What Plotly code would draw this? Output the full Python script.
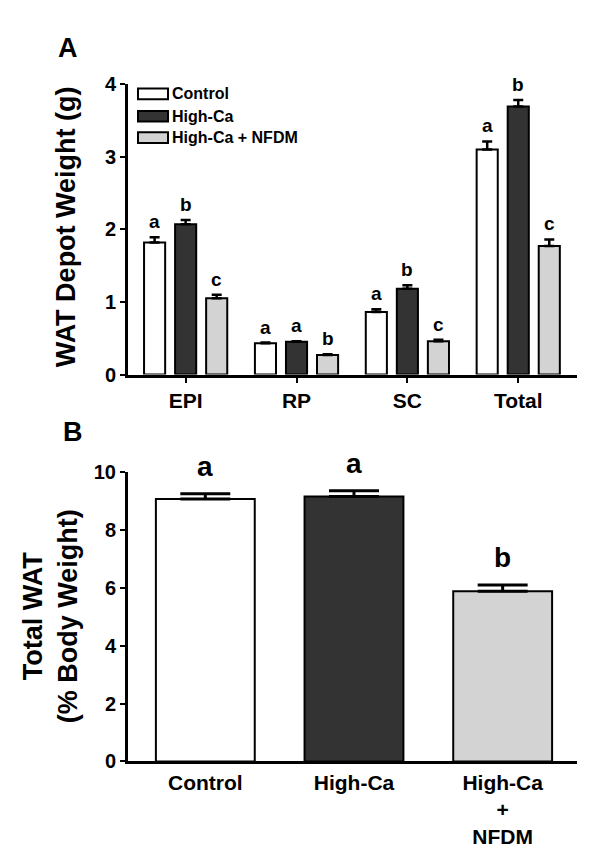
import plotly.graph_objects as go

# ---------------- data ----------------
depots = ["EPI", "RP", "SC", "Total"]
groups = ["Control", "High-Ca", "High-Ca + NFDM"]
colors = ["#ffffff", "#333333", "#d3d3d3"]

ctrl = [1.82, 0.43, 0.86, 3.10]
ctrl_err = [0.07, 0.01, 0.04, 0.11]
hica = [2.07, 0.45, 1.18, 3.69]
hica_err = [0.06, 0.01, 0.05, 0.09]
nfdm = [1.05, 0.27, 0.46, 1.77]
nfdm_err = [0.05, 0.01, 0.02, 0.09]
letters_A = [["a", "a", "a", "a"], ["b", "a", "b", "b"], ["c", "b", "c", "c"]]

b_labels = ["Control", "High-Ca", "High-Ca<br>+<br>NFDM"]
b_vals = [9.07, 9.15, 5.88]
b_err = [0.18, 0.20, 0.22]
b_letters = ["a", "a", "b"]

W, H = 600, 867
FONT = "Liberation Sans, Arial, sans-serif"

def px(x):
    return x / W

def py(y):
    return (H - y) / H

fig = go.Figure()

# ---------------- panel A ----------------
vals_A = [ctrl, hica, nfdm]
errs_A = [ctrl_err, hica_err, nfdm_err]
xs = list(range(len(depots)))
for k in range(3):
    fig.add_trace(go.Bar(
        x=xs, y=vals_A[k], name=groups[k],
        marker=dict(color=colors[k], line=dict(color="black", width=2)),
        error_y=dict(type="data", symmetric=False, array=errs_A[k],
                     arrayminus=[0] * len(depots), color="black",
                     thickness=2.5, width=5),
        xaxis="x", yaxis="y", showlegend=False,
    ))

slot = 0.84 / 3
annotations = []
for k in range(3):
    for i in range(len(depots)):
        annotations.append(dict(
            x=i + (k - 1) * slot, y=vals_A[k][i] + errs_A[k][i],
            xref="x", yref="y", text=letters_A[k][i], showarrow=False,
            yanchor="bottom", yshift=3,
            font=dict(family=FONT, size=19, color="black", weight="bold"),
        ))

# ---------------- panel B ----------------
xb = list(range(len(b_labels)))
fig.add_trace(go.Bar(
    x=xb, y=b_vals,
    marker=dict(color=colors, line=dict(color="black", width=2)),
    error_y=dict(type="data", symmetric=False, array=b_err,
                 arrayminus=[0] * len(b_vals), color="black",
                 thickness=3, width=25),
    width=0.665, xaxis="x2", yaxis="y2", showlegend=False,
))
for i in range(len(b_labels)):
    annotations.append(dict(
        x=xb[i], y=b_vals[i] + b_err[i], xref="x2", yref="y2",
        text=b_letters[i], showarrow=False, yanchor="bottom", yshift=10,
        font=dict(family=FONT, size=28, color="black", weight="bold"),
    ))

# panel labels and axis titles
annotations += [
    dict(x=px(68), y=py(38), xref="paper", yref="paper", text="A",
         showarrow=False, xanchor="center", yanchor="middle",
         font=dict(family=FONT, size=27, color="black", weight="bold")),
    dict(x=px(73), y=py(432), xref="paper", yref="paper", text="B",
         showarrow=False, xanchor="center", yanchor="middle",
         font=dict(family=FONT, size=27, color="black", weight="bold")),
    dict(x=px(66), y=py(222), xref="paper", yref="paper",
         text="WAT Depot Weight (g)", textangle=-90, showarrow=False,
         xanchor="center", yanchor="middle",
         font=dict(family=FONT, size=27, color="black", weight="bold")),
    dict(x=px(50), y=py(621), xref="paper", yref="paper",
         text="Total WAT<br>(% Body Weight)", textangle=-90, showarrow=False,
         xanchor="center", yanchor="middle",
         font=dict(family=FONT, size=27, color="black", weight="bold")),
]

# legend (manual swatches)
shapes = []
leg_rows = [85, 108, 130]
for k in range(3):
    yc = leg_rows[k]
    shapes.append(dict(type="rect", xref="paper", yref="paper",
                       x0=px(138), x1=px(168), y0=py(yc + 5.5), y1=py(yc - 5.5),
                       fillcolor=colors[k], line=dict(color="black", width=2)))
    annotations.append(dict(x=px(170), y=py(yc), xref="paper", yref="paper",
                            text=groups[k], showarrow=False,
                            xanchor="left", yanchor="middle",
                            font=dict(family=FONT, size=16, color="black", weight="bold")))

tickfont = dict(family=FONT, size=20, color="black", weight="bold")
xtickfont = dict(family=FONT, size=21, color="black", weight="bold")

fig.update_layout(
    width=W, height=H,
    margin=dict(l=0, r=0, t=0, b=0),
    paper_bgcolor="white", plot_bgcolor="white",
    barmode="group", bargap=0.16, bargroupgap=0.32,
    showlegend=False,
    annotations=annotations, shapes=shapes,
    xaxis=dict(domain=[px(128), px(577)], range=[-0.52, 3.53],
               tickvals=xs, ticktext=depots, tickfont=xtickfont,
               showline=True, linecolor="black", linewidth=3,
               ticks="outside", ticklen=5, tickwidth=2, tickcolor="black",
               showgrid=False, zeroline=False, anchor="y"),
    yaxis=dict(domain=[py(373), py(75)], range=[0, 4], dtick=1,
               tickfont=tickfont, showline=True, linecolor="black", linewidth=3,
               ticks="outside", ticklen=5, tickwidth=2, tickcolor="black",
               showgrid=False, zeroline=False, anchor="x"),
    xaxis2=dict(domain=[px(128), px(577)], range=[-0.52, 2.5],
                tickvals=xb, ticktext=b_labels, tickfont=xtickfont,
                showline=True, linecolor="black", linewidth=3,
                ticks="", showgrid=False, zeroline=False, anchor="y2"),
    yaxis2=dict(domain=[py(770), py(473)], range=[0, 10], dtick=2,
                tickfont=tickfont, showline=True, linecolor="black", linewidth=3,
                ticks="outside", ticklen=5, tickwidth=2, tickcolor="black",
                showgrid=False, zeroline=False, anchor="x2"),
)

fig.write_html("out.html",
               config={"displayModeBar": False},
               post_script="document.body.style.margin='0';document.body.style.overflow='hidden';")
